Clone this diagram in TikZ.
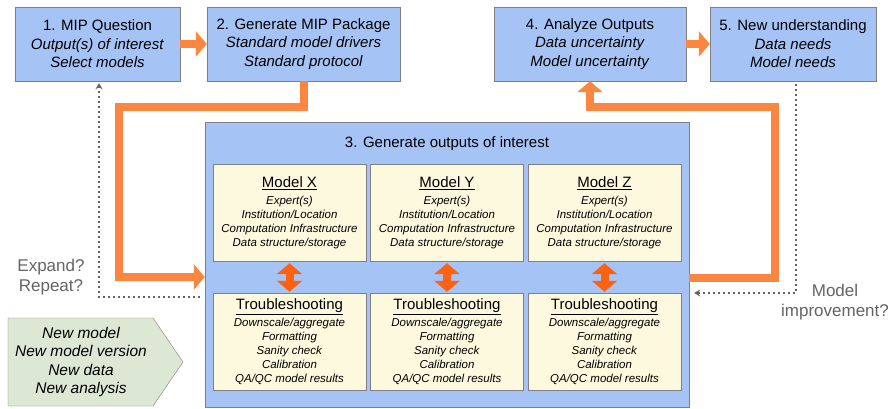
\documentclass[tikz,border=0pt]{standalone}
\usepackage{fontspec}
\setmainfont{Liberation Sans}
\usetikzlibrary{arrows.meta,positioning}
\definecolor{stageblue}{RGB}{166,195,246}
\definecolor{modelcream}{RGB}{253,249,222}
\definecolor{ideagreen}{RGB}{221,232,212}
\definecolor{floworange}{RGB}{250,134,64}
\definecolor{swaporange}{RGB}{252,98,18}
\definecolor{edgegray}{RGB}{128,128,128}
\definecolor{notegray}{RGB}{100,100,100}

\begin{document}
\begin{tikzpicture}[x=1pt,y=-1pt,
    stage/.style = {rectangle, draw=edgegray, fill=stageblue, align=center,
        inner sep=0pt, minimum height=74pt, font=\fontsize{15}{18.5}\selectfont},
    model/.style = {rectangle, draw=edgegray, fill=modelcream, align=center,
        inner sep=0pt, minimum width=153pt, minimum height=97pt,
        font=\fontsize{11.5}{14}\selectfont},
    flow/.style = {draw=floworange, line width=8pt,
        -{Triangle[width=25pt,length=11pt]}},
    swap/.style = {draw=swaporange, line width=8pt,
        {Triangle[width=25pt,length=11pt]}-{Triangle[width=25pt,length=11pt]}},
    loop/.style = {draw=notegray, line width=1.5pt, dash pattern=on 1.5pt off 3.5pt,
        -{Stealth[width=7pt,length=6pt]}},
    note/.style = {text=notegray, align=center, font=\fontsize{17}{20}\selectfont}]

\useasboundingbox (0,0) rectangle (892,409);

% Top row
\node[stage, minimum width=165pt] (mip1) at (97.5,44)
    {1. MIP Question\\ \textit{Output(s) of interest}\\ \textit{Select models}};
\node[stage, minimum width=193pt] (mip2) at (303.5,44)
    {2. Generate MIP Package\\ \textit{Standard model drivers}\\ \textit{Standard protocol}};
\node[stage, minimum width=192pt] (mip4) at (590,44)
    {4. Analyze Outputs\\ \textit{Data uncertainty}\\ \textit{Model uncertainty}};
\node[stage, minimum width=166pt] (mip5) at (793,44)
    {5. New understanding\\ \textit{Data needs}\\ \textit{Model needs}};

% Outputs of interest
\node[stage, minimum width=484pt, minimum height=285pt] (gen3) at (447,264.5) {};
\node[font=\fontsize{15}{18}\selectfont] (gen3title) at (447,144)
    {3. Generate outputs of interest};

\foreach \m/\x in {X/289.5, Y/447, Z/604.5} {
    \node[model] (model\m) at (\x,212.5)
        {{\fontsize{15}{17}\selectfont\underline{Model \m}}\\[3pt]
         \textit{Expert(s)}\\ \textit{Institution/Location}\\
         \textit{Computation Infrastructure}\\ \textit{Data structure/storage}};
    \node[model] (trouble\m) at (\x,341.5)
        {{\fontsize{15}{17}\selectfont\underline{Troubleshooting}}\\[3pt]
         \textit{Downscale/aggregate}\\ \textit{Formatting}\\
         \textit{Sanity check}\\ \textit{Calibration}\\
         \textit{QA/QC model results}};
    \draw[swap, shorten <=2pt, shorten >=1pt] (model\m.south) -- (trouble\m.north);
}

% Orange flow
\coordinate (bendL) at (119,107);
\coordinate (bendR) at (775,107);
\draw[flow] (mip1.east) -- (mip2.west);
\draw[flow] (mip4.east) -- (mip5.west);
\draw[flow] (mip2.south) |- (bendL) |- ([yshift=-12.5pt]gen3.west);
\draw[flow] ([yshift=-13.5pt]gen3.east) -| (bendR) -| (mip4.south);

% Dotted loops
\draw[loop, shorten >=2pt] ([xshift=-5pt,yshift=-32.5pt]gen3.west) -| ([xshift=1.5pt]mip1.south);
\draw[loop, shorten <=3pt, shorten >=2pt] ([xshift=3pt]mip5.south) |- ([xshift=3pt,yshift=-28.5pt]gen3.east);
\node[note] (expand) at (51,277) {Expand?\\Repeat?};
\node[note] (improve) at (835,302) {Model\\improvement?};

% New inputs
\draw[draw=edgegray, fill=ideagreen] (8,318) -- (153,318) -- (183,362)
    -- (153,406) -- (8,406) -- cycle;
\node[align=center, font=\fontsize{15.5}{18.5}\selectfont\itshape] (ideas) at (81,362)
    {New model\\New model version\\New data\\New analysis};

\end{tikzpicture}
\end{document}
